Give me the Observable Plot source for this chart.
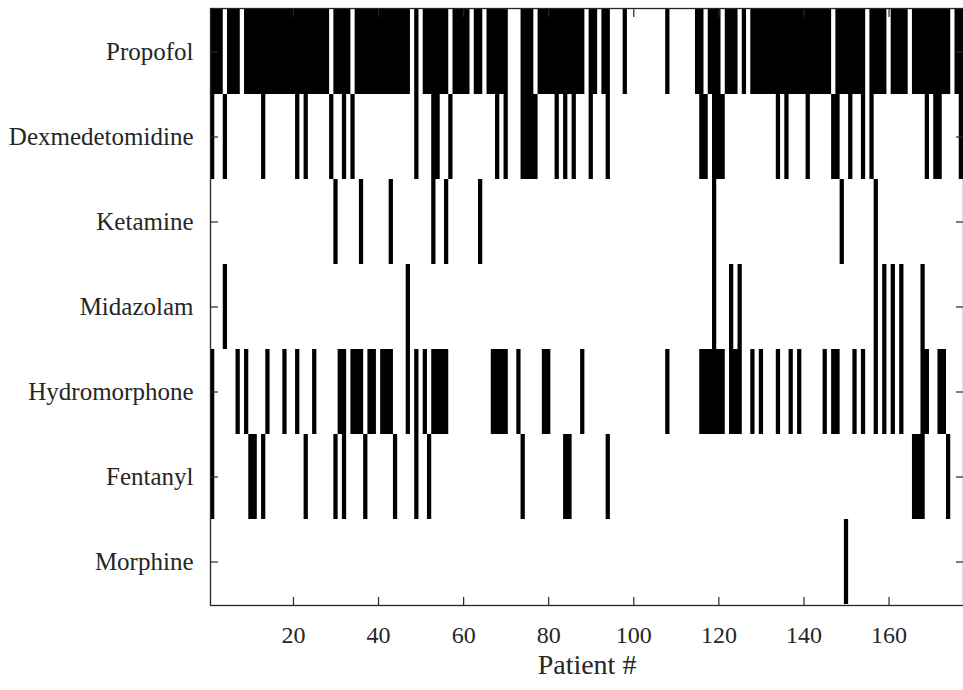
<!DOCTYPE html>
<html><head><meta charset="utf-8">
<script src="https://cdn.jsdelivr.net/npm/d3@7"></script>
<script src="https://cdn.jsdelivr.net/npm/@observablehq/plot@0.6"></script>
<style>body{margin:0;background:#fff;} svg{display:block}</style>
</head><body><div id="chart"></div>
<script>
// Drug rows, top to bottom
const drugs = ["Propofol","Dexmedetomidine","Ketamine","Midazolam","Hydromorphone","Fentanyl","Morphine"];
const nPatients = 177;
const xTicks = [20,40,60,80,100,120,140,160];

// Patients receiving each drug, as [first, last] runs of consecutive patient numbers
const propofol = [[1,3],[5,7],[9,28],[30,33],[35,47],[49,49],[51,56],[58,61],[63,64],[66,70],[74,76],[78,88],[90,91],[93,94],[98,98],[108,108],[115,116],[118,120],[122,124],[126,126],[128,146],[148,154],[156,159],[161,164],[166,174],[176,177]];
const dexmedetomidine = [[1,1],[4,4],[13,13],[21,21],[23,23],[29,29],[32,32],[34,34],[49,49],[53,54],[57,57],[68,68],[70,70],[74,77],[82,82],[84,84],[86,86],[90,90],[94,94],[116,117],[119,121],[134,134],[136,136],[141,141],[147,148],[151,151],[154,154],[156,156],[169,169],[171,172],[177,177]];
const ketamine = [[30,30],[36,36],[43,43],[53,53],[56,56],[64,64],[119,119],[149,149],[157,157]];
const midazolam = [[4,4],[47,47],[119,119],[123,123],[125,125],[157,157],[159,159],[161,161],[163,163],[168,168]];
const hydromorphone = [[1,1],[7,7],[9,9],[14,14],[18,18],[21,21],[25,25],[31,32],[34,36],[38,39],[41,43],[47,47],[49,49],[51,51],[53,56],[67,70],[73,73],[79,80],[88,88],[108,108],[116,121],[123,125],[128,128],[130,130],[134,134],[137,137],[139,139],[145,145],[147,148],[152,152],[154,154],[157,157],[159,159],[161,161],[163,163],[168,169],[172,173]];
const fentanyl = [[1,1],[10,11],[13,13],[23,23],[30,30],[32,32],[37,37],[44,44],[49,49],[52,52],[74,74],[84,85],[94,94],[166,168],[174,174]];
const morphine = [[150,150]];

const lists = [propofol, dexmedetomidine, ketamine, midazolam, hydromorphone, fentanyl, morphine];
const runs = [];
drugs.forEach((drug, i) => lists[i].forEach(([a, b]) => runs.push({drug, start: a, end: b})));

const font = "'Liberation Serif','Times New Roman',serif";
const axisColor = "#262626";

const chart = Plot.plot({
  width: 963, height: 690,
  marginTop: 8, marginBottom: 85, marginLeft: 210, marginRight: 0,
  style: {fontFamily: font, background: "white", color: axisColor},
  x: {domain: [0.5, nPatients + 0.5]},
  y: {domain: drugs, padding: 0},
  marks: [
    Plot.barX(runs, {y: "drug", x1: d => d.start - 0.5, x2: d => d.end + 0.5, fill: "black"}),
    Plot.axisY({anchor: "left", tickSize: 0, tickPadding: 17, fontSize: 25, label: null}),
    Plot.axisY({anchor: "left", tickSize: 8, dx: 8, tickFormat: () => "", label: null, strokeWidth: 1.2}),
    Plot.axisY({anchor: "right", tickSize: 8, dx: -8, tickFormat: () => "", label: null, strokeWidth: 1.2}),
    Plot.axisX({anchor: "bottom", ticks: xTicks, tickSize: 0, tickPadding: 20, fontSize: 24, label: null}),
    Plot.axisX({anchor: "bottom", ticks: xTicks, tickSize: 8, dy: -8, tickFormat: () => "", label: null, strokeWidth: 1.2}),
    Plot.axisX({anchor: "top", ticks: xTicks, tickSize: 8, dy: 8, tickFormat: () => "", label: null, strokeWidth: 1.2}),
    Plot.frame({stroke: axisColor, strokeWidth: 1.3}),
    Plot.text(["Patient #"], {frameAnchor: "bottom", text: d => d, dy: 68, fontSize: 28, fill: axisColor})
  ]
});
document.getElementById("chart").appendChild(chart);
</script>
</body></html>
